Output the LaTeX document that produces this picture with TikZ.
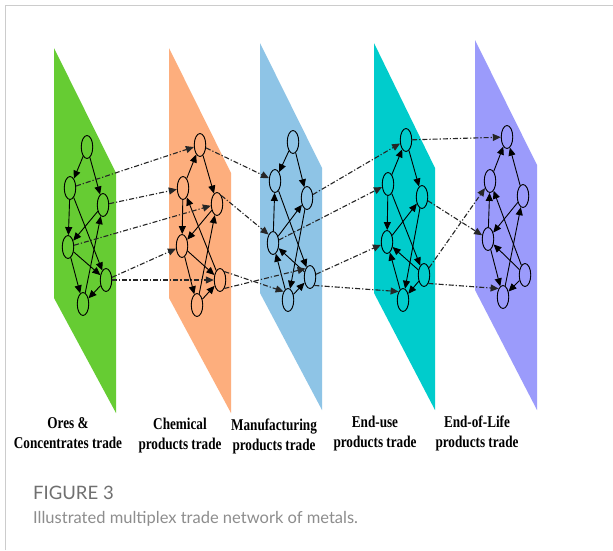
\documentclass[tikz,border=0pt]{standalone}
\usepackage{fontspec}
\usetikzlibrary{arrows.meta,shapes.geometric}
\newfontfamily\labelfont[FakeStretch=0.8]{Liberation Serif}
\newfontfamily\capfont{Lato}
\definecolor{oresgreen}{HTML}{66CC33}
\definecolor{chemorange}{HTML}{FDAE7D}
\definecolor{manublue}{HTML}{8EC4E6}
\definecolor{enduseteal}{HTML}{00CCCC}
\definecolor{eolpurple}{HTML}{9B9BFB}
\definecolor{framegray}{HTML}{CCCCCC}
\definecolor{capgray}{HTML}{707070}

\tikzset{
  vertex/.style={draw, ellipse, minimum width=11.5pt, minimum height=23pt, inner sep=0pt, line width=0.9pt},
  link/.style={-{Triangle[length=8pt,width=7pt]}, line width=0.9pt},
  crosslink/.style={-{Triangle[length=8pt,width=7pt]}, line width=1.1pt, black!85,
    dash pattern=on 5pt off 2pt on 1.2pt off 2pt},
  layerlabel/.style={font=\labelfont\bfseries\fontsize{16.5}{20}\selectfont, align=center, inner sep=0pt}
}

\begin{document}
\begin{tikzpicture}[x=1pt, y=-1pt]
  \useasboundingbox (0,0) rectangle (613,550);
  \fill[white] (0,0) rectangle (613,550);
  \draw[framegray, line width=1pt] (5.5,550) -- (5.5,5.5) -- (613,5.5);

  \fill[oresgreen]  (54,48)  -- (116,173) -- (116,413) -- (54,298)  -- cycle;
  \fill[chemorange] (169,48) -- (231,173) -- (231,413) -- (169,298) -- cycle;
  \fill[manublue]   (260,43) -- (322,168) -- (322,410) -- (260,293) -- cycle;
  \fill[enduseteal] (374,43) -- (435,168) -- (435,410) -- (374,293) -- cycle;
  \fill[eolpurple]  (475,40) -- (537,165) -- (537,410) -- (475,290) -- cycle;

  \node[vertex] (g1) at (87,147) {};
  \node[vertex] (g2) at (70,188) {};
  \node[vertex] (g3) at (103,205) {};
  \node[vertex] (g4) at (68,247) {};
  \node[vertex] (g5) at (106,280) {};
  \node[vertex] (g6) at (83,304) {};

  \node[vertex] (o1) at (200,145) {};
  \node[vertex] (o2) at (183,188) {};
  \node[vertex] (o3) at (217,204) {};
  \node[vertex] (o4) at (182,246) {};
  \node[vertex] (o5) at (220,280) {};
  \node[vertex] (o6) at (197,305) {};

  \node[vertex] (b1) at (293,142) {};
  \node[vertex] (b2) at (275,181) {};
  \node[vertex] (b3) at (307,198) {};
  \node[vertex] (b4) at (273,243) {};
  \node[vertex] (b5) at (310,277) {};
  \node[vertex] (b6) at (288,300) {};

  \node[vertex] (t1) at (406,140) {};
  \node[vertex] (t2) at (388,184) {};
  \node[vertex] (t3) at (422,197) {};
  \node[vertex] (t4) at (387,242) {};
  \node[vertex] (t5) at (424,275) {};
  \node[vertex] (t6) at (403,300) {};

  \node[vertex] (p1) at (507,137) {};
  \node[vertex] (p2) at (490,181) {};
  \node[vertex] (p3) at (523,196) {};
  \node[vertex] (p4) at (488,239) {};
  \node[vertex] (p5) at (525,275) {};
  \node[vertex] (p6) at (503,297) {};

  \draw[link] (g1) -- (g2);  \draw[link] (g1) -- (g3);  \draw[link] (g2) -- (g4);
  \draw[link] (g2) -- (g5);  \draw[link] (g3) -- (g4);  \draw[link] (g6) -- (g3);
  \draw[link] (g4) -- (g6);  \draw[link] (g4) -- (g5);  \draw[link] (g5) -- (g6);

  \draw[link] (o2) -- (o1);  \draw[link] (o1) -- (o3);  \draw[link] (o2) -- (o4);
  \draw[link] (o3) -- (o4);  \draw[link] (o5) -- (o2);  \draw[link] (o4) -- (o5);
  \draw[link] (o4) -- (o6);  \draw[link] (o6) -- (o3);  \draw[link] (o6) -- (o5);

  \draw[link] (b1) -- (b2);  \draw[link] (b1) -- (b3);  \draw[link] (b4) -- (b2);
  \draw[link] (b4) -- (b3);  \draw[link] (b2) -- (b5);  \draw[link] (b5) -- (b4);
  \draw[link] (b3) -- (b6);  \draw[link] (b6) -- (b5);  \draw[link] (b6) -- (b4);

  \draw[link] (t2) -- (t1);  \draw[link] (t1) -- (t3);  \draw[link] (t2) -- (t4);
  \draw[link] (t4) -- (t3);  \draw[link] (t2) -- (t5);  \draw[link] (t5) -- (t4);
  \draw[link] (t3) -- (t6);  \draw[link] (t6) -- (t4);  \draw[link] (t5) -- (t6);

  \draw[link] (p2) -- (p1);  \draw[link] (p3) -- (p1);  \draw[link] (p4) -- (p2);
  \draw[link] (p5) -- (p2);  \draw[link] (p3) -- (p4);  \draw[link] (p5) -- (p4);
  \draw[link] (p6) -- (p3);  \draw[link] (p4) -- (p6);  \draw[link] (p5) -- (p6);

  \draw[crosslink] (g2) -- (o1);
  \draw[crosslink] (g3) -- (o2);
  \draw[crosslink] (g4) -- (o3);
  \draw[crosslink] (g5) -- (o4);
  \draw[crosslink] (g5) -- (o5);

  \draw[crosslink] (o1) -- (b2);
  \draw[crosslink] (o3.north east) -- (b4.north west);
  \draw[crosslink] (o5.north east) -- (b6.north west);
  \draw[crosslink] (o5.south east) -- (b5.north west);

  \draw[crosslink] (b3) -- (t1);
  \draw[crosslink] (b4) -- (t2);
  \draw[crosslink] (b5) -- (t4);
  \draw[crosslink] (b5.south east) -- (t6.north west);

  \draw[crosslink] (t1) -- (p1);
  \draw[crosslink] (t3) -- (p4);
  \draw[crosslink] (t5) -- (p2);
  \draw[crosslink] (t5.south east) -- (p6.north west);

  \node[layerlabel] (oreslbl) at (68,433) {Ores \&\\Concentrates trade};
  \node[layerlabel] (chemlbl) at (180,436) {Chemical\\products trade};
  \node[layerlabel] (manulbl) at (274,436) {Manufacturing\\products trade};
  \node[layerlabel] (enduselbl) at (375,434) {End-use\\products trade};
  \node[layerlabel] (eollbl) at (477,433) {End-of-Life\\products trade};

  \node[anchor=base west, inner sep=0pt, text=capgray, font=\capfont\fontsize{18.5}{22}\selectfont]
    (figno) at (33,499) {FIGURE 3};
  \node[anchor=base west, inner sep=0pt, text=capgray!80, font=\capfont\fontsize{16.5}{20}\selectfont]
    (figcap) at (33,523) {Illustrated multiplex trade network of metals.};
\end{tikzpicture}
\end{document}
